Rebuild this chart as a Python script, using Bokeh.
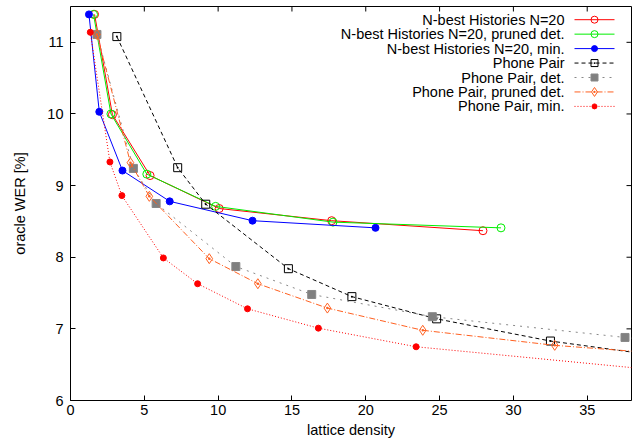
from bokeh.plotting import figure
from bokeh.models import Range1d, FixedTicker, Label
from bokeh.embed import file_html
from bokeh.resources import INLINE

# ---- data ----
nb_x = [1.63, 2.84, 5.39, 10.07, 17.69, 27.94]
nb_y = [11.39, 9.99, 9.14, 8.68, 8.51, 8.37]
nbp_x = [1.56, 2.74, 5.17, 9.83, 17.78, 29.16]
nbp_y = [11.39, 10.00, 9.16, 8.71, 8.49, 8.41]
nbm_x = [1.25, 1.95, 3.52, 6.72, 12.33, 20.66]
nbm_y = [11.39, 10.03, 9.21, 8.78, 8.51, 8.41]
pp_x = [3.14, 7.26, 9.16, 14.76, 19.06, 24.80, 32.51, 45.0]
pp_y = [11.08, 9.25, 8.74, 7.84, 7.45, 7.14, 6.83, 6.48]
ppd_x = [1.79, 4.26, 5.80, 11.20, 16.34, 24.51, 37.56, 45.0]
ppd_y = [11.11, 9.24, 8.75, 7.87, 7.48, 7.17, 6.88, 6.72]
ppp_x = [1.79, 4.06, 5.34, 9.40, 12.69, 17.40, 23.86, 32.80, 45.0]
ppp_y = [11.11, 9.32, 8.85, 7.98, 7.63, 7.29, 6.98, 6.77, 6.58]
ppm_x = [1.34, 2.67, 3.48, 6.29, 8.61, 11.99, 16.79, 23.41, 45.0]
ppm_y = [11.14, 9.33, 8.86, 7.99, 7.63, 7.28, 7.01, 6.75, 6.32]

names = ["N-best Histories N=20", "N-best Histories N=20, pruned det.",
         "N-best Histories N=20, min.", "Phone Pair", "Phone Pair, det.",
         "Phone Pair, pruned det.", "Phone Pair, min."]
x_ticks = [0, 5, 10, 15, 20, 25, 30, 35]
y_ticks = [6, 7, 8, 9, 10, 11]

FONT = "Liberation Sans"
FS = "14.5px"

XMIN, XMAX, YMIN, YMAX = 0, 38, 6, 11.5
W, H = 639, 442
BL, BR, BT, BB = 70, 8, 6, 42

p = figure(width=W, height=H, output_backend="svg", toolbar_location=None,
           x_range=Range1d(XMIN, XMAX), y_range=Range1d(YMIN, YMAX),
           min_border_left=BL, min_border_right=BR, min_border_top=BT,
           min_border_bottom=BB, x_axis_label="lattice density",
           y_axis_label="oracle WER [%]")
p.grid.visible = False
p.outline_line_color = "black"
p.outline_line_width = 1
p.background_fill_color = "white"
p.border_fill_color = "white"

p.xaxis.ticker = FixedTicker(ticks=x_ticks)
p.yaxis.ticker = FixedTicker(ticks=y_ticks)

for ax in p.axis:
    ax.axis_line_color = None
    ax.major_tick_in = 5
    ax.major_tick_out = 0
    ax.major_tick_line_color = "black"
    ax.minor_tick_line_color = None
    ax.major_label_text_font = FONT
    ax.axis_label_text_font = FONT
    ax.axis_label_text_font_style = "normal"
    ax.major_label_text_color = "black"
    ax.axis_label_text_color = "black"
    ax.major_label_text_font_size = FS
    ax.axis_label_text_font_size = FS
p.xaxis.major_label_standoff = 4
p.xaxis.axis_label_standoff = 4
p.yaxis.major_label_standoff = 7
p.yaxis.axis_label_standoff = 16

fw = W - BL - BR
fh = H - BT - BB
def dx(px):
    return XMIN + (px - BL) / fw * (XMAX - XMIN)
def dy(py):
    return YMAX - (py - BT) / fh * (YMAX - YMIN)
tick_dx = 5 / fw * (XMAX - XMIN)
tick_dy = 5 / fh * (YMAX - YMIN)

# mirrored inward ticks on top and right edges
p.segment(x0=x_ticks, y0=[YMAX] * len(x_ticks), x1=x_ticks,
          y1=[YMAX - tick_dy] * len(x_ticks), line_color="black", line_width=1)
p.segment(x0=[XMAX] * len(y_ticks), y0=y_ticks, x1=[XMAX - tick_dx] * len(y_ticks),
          y1=y_ticks, line_color="black", line_width=1)

styles = [
    dict(x=nb_x, y=nb_y, color="#ff0000", dash="solid", marker="circle", fill=None, size=8),
    dict(x=nbp_x, y=nbp_y, color="#00ee00", dash="solid", marker="circle", fill=None, size=8),
    dict(x=nbm_x, y=nbm_y, color="#0000ff", dash="solid", marker="circle", fill="#0000ff", size=7),
    dict(x=pp_x, y=pp_y, color="#000000", dash="4 3", marker="square_dot", fill=None, size=8),
    dict(x=ppd_x, y=ppd_y, color="#888888", dash="2 5", marker="square", fill="#808080", size=8),
    dict(x=ppp_x, y=ppp_y, color="#ff6020", dash="6 2 1 2", marker="diamond_dot", fill=None, size=10),
    dict(x=ppm_x, y=ppm_y, color="#ff0000", dash="1 2", marker="circle", fill="#ff0000", size=6),
]

for s in styles:
    p.line(s["x"], s["y"], line_color=s["color"], line_dash=s["dash"], line_width=1)
    p.scatter(s["x"], s["y"], marker=s["marker"], size=s["size"], line_color=s["color"],
              fill_color=s["fill"], line_width=1)

# ---- legend (positions converted from screen pixels) ----
row0, step = 19.2, 14.45
for i, (name, s) in enumerate(zip(names, styles)):
    ry = dy(row0 + i * step)
    p.add_layout(Label(x=dx(564), y=ry, text=name, text_align="right",
                       text_baseline="middle", text_font=FONT, text_font_size=FS,
                       text_color="black"))
    p.line([dx(574), dx(614)], [ry, ry], line_color=s["color"], line_dash=s["dash"], line_width=1)
    p.scatter([dx(594)], [ry], marker=s["marker"], size=s["size"] - 1, line_color=s["color"],
              fill_color=s["fill"], line_width=1)

open("out.html", "w").write(file_html(p, INLINE))
